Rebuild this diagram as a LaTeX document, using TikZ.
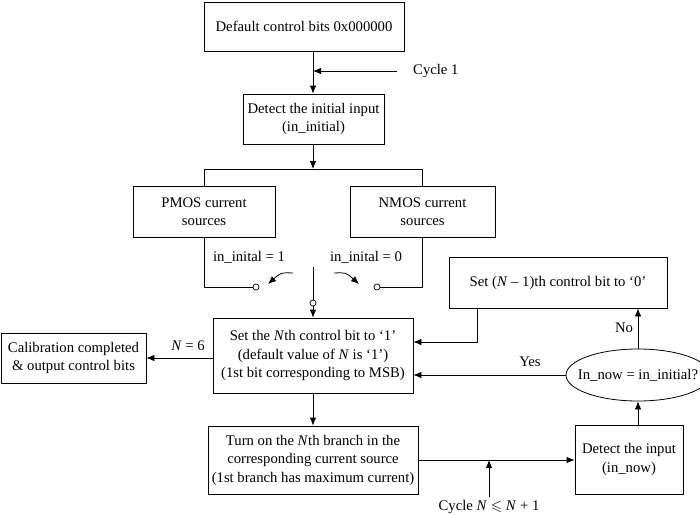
\documentclass[tikz,border=0pt]{standalone}
\usepackage{fontspec}
\setmainfont{Liberation Serif}
\usepackage{amssymb}
\usetikzlibrary{arrows.meta,shapes.geometric}
\tikzset{
  box/.style={draw,line width=0.8pt,align=center,inner sep=0pt},
  lbl/.style={inner sep=0pt},
  arr/.style={line width=0.8pt,-{Latex[length=8pt,width=6.5pt]}},
  ln/.style={line width=0.8pt},
  sw/.style={draw,line width=0.7pt,circle,minimum size=6pt,inner sep=0pt,fill=white},
}
\begin{document}
\begin{tikzpicture}[x=1pt,y=-1pt,font=\fontsize{14.7}{18.5}\selectfont]
\clip (0,0) rectangle (700,514);
\fill[white] (0,0) rectangle (700,514);
\coordinate (mx) at (313,0);
\coordinate (dx) at (638,0);
\node[box,minimum width=200,minimum height=49] (b1) at (304,26.5) {Default control bits 0x000000};
\node[box,minimum width=141,minimum height=50] (b2) at (313.5,119) {Detect the initial input\\(in\_initial)};
\node[box,minimum width=142,minimum height=51] (pm) at (204,211.5) {PMOS current\\sources};
\node[box,minimum width=145,minimum height=51] (nm) at (422.5,211.5) {NMOS current\\sources};
\node[box,minimum width=200,minimum height=75] (set) at (313,355.5) {Set the \textit{N}th control bit to `1'\\(default value of \textit{N} is `1')\\(1st bit corresponding to MSB)};
\node[box,minimum width=145,minimum height=50] (cal) at (73.5,358) {Calibration completed\\\& output control bits};
\node[box,minimum width=218,minimum height=51] (dec) at (558,282.5) {Set (\textit{N} -- 1)th control bit to `0'};
\node[box,ellipse,minimum width=144,minimum height=52] (cmp) at (638,375) {\makebox[100pt]{In\_now = in\_initial?}};
\node[box,minimum width=210,minimum height=68] (turn) at (313,460) {Turn on the \textit{N}th branch in the\\corresponding current source\\(1st branch has maximum current)};
\node[box,minimum width=108,minimum height=69] (det) at (629,459.5) {Detect the input\\(in\_now)};
% switch
\coordinate (bar) at (313,169);
\coordinate (barl) at (204,169);
\coordinate (barr) at (422,169);
\coordinate (pmc) at (204,287);
\coordinate (nmc) at (422,287);
\node[sw] (swl) at (256,287) {};
\node[sw] (swr) at (377,287) {};
\node[sw] (swc) at (313,303) {};
\coordinate (ctop) at (313,267);
% connectors
\draw[arr] (b1.south -| mx) -- (b2.north -| mx);
\coordinate (c1s) at (397,71);
\draw[arr] (c1s) -- (c1s -| mx);
\node[lbl,anchor=west] (c1) at (413,71) {Cycle 1};
\draw[arr] (b2.south -| mx) -- (bar);
\draw[ln] (pm.north -| barl) -- (barl) -- (barr) -- (nm.north -| barr);
\draw[ln] (pm.south -| pmc) -- (pmc) -- (swl);
\draw[ln] (nm.south -| nmc) -- (nmc) -- (swr);
\draw[ln] (ctop) -- (swc);
\draw[arr] (swc) -- (set.north -| mx);
\node[lbl] (l1) at (249,257) {in\_inital = 1};
\node[lbl] (l0) at (366,257) {in\_inital = 0};
\coordinate (ala) at (293,273);
\coordinate (alb) at (268,284);
\coordinate (ara) at (334,273);
\coordinate (arb) at (359,284);
\draw[arr] (ala) .. controls (281,272.5) .. (alb);
\draw[arr] (ara) .. controls (346,272.5) .. (arb);
\draw[arr] (set.west |- cal.east) -- (cal.east);
\node[lbl] (n6) at (188,346) {\textit{N} = 6};
\coordinate (dk) at (477,342);
\draw[arr] (dec.south -| dk) -- (dk) -- (set.east |- dk);
\draw[arr] (cmp.north) -- (dec.south -| dx);
\node[lbl] (no) at (624,328) {No};
\draw[arr] (cmp.west) -- (set.east |- cmp.west);
\node[lbl] (yes) at (530,362) {Yes};
\draw[arr] (set.south) -- (turn.north);
\draw[arr] (turn.east) -- (det.west |- turn.east);
\coordinate (cy) at (489,497);
\draw[arr] (cy) -- (cy |- turn.east);
\node[lbl] (cyl) at (489,507) {Cycle \textit{N} $\leqslant$ \textit{N} + 1};
\draw[arr] (det.north -| dx) -- (cmp.south);
\end{tikzpicture}
\end{document}
